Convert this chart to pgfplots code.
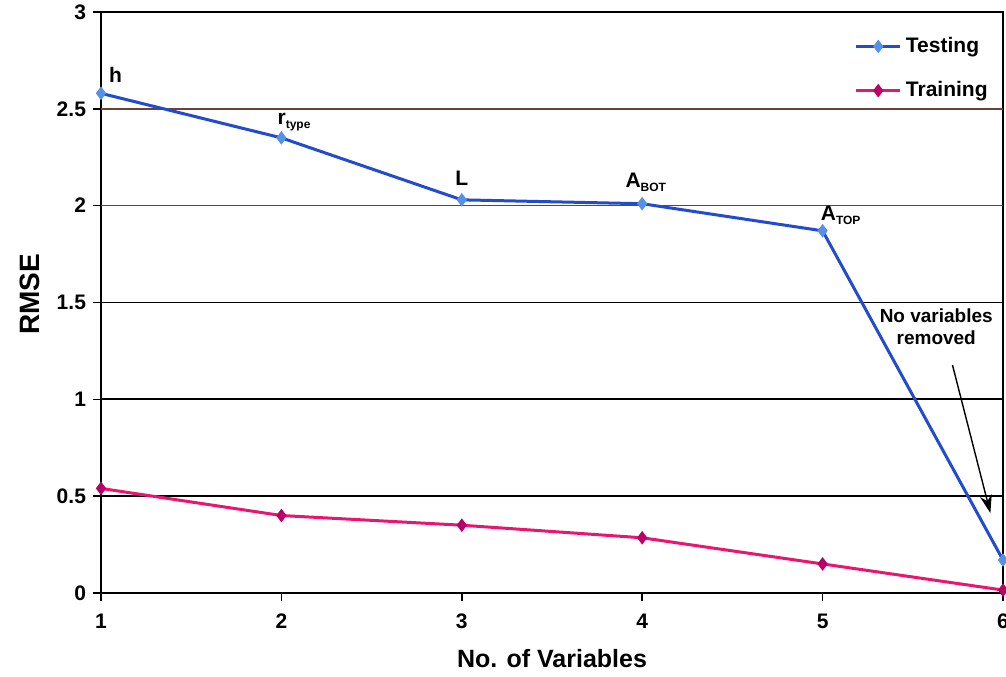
\documentclass[border=0pt]{standalone}
\usepackage{fontspec}
\setmainfont{Liberation Sans}
\usepackage{pgfplots}
\pgfplotsset{compat=1.18}
\usetikzlibrary{arrows.meta}
\definecolor{tblue}{RGB}{35,75,205}
\definecolor{tmark}{RGB}{85,145,230}
\definecolor{rpink}{RGB}{232,22,112}
\definecolor{rmark}{RGB}{185,0,105}
\definecolor{gbrown}{RGB}{110,65,50}
\begin{document}
\begin{tikzpicture}
\begin{axis}[
  scale only axis, width=451pt, height=290.5pt,
  xmin=1, xmax=6, ymin=0, ymax=3, clip=false,
  xtick={1,2,3,4,5,6},
  ytick={0,0.5,1,1.5,3},
  extra y ticks={2,2.5},
  extra y tick style={grid style={draw=gbrown, line width=0.7pt}},
  ymajorgrids, grid style={black, line width=0.9pt},
  axis line style={black, line width=1.4pt},
  tick style={black, line width=0.8pt},
  tick align=outside, tick pos=left, major tick length=4pt,
  /pgf/number format/assume math mode=true,
  ticklabel style={font=\fontsize{10.5}{12}\selectfont\bfseries},
  xticklabel style={yshift=-3pt},
  xlabel={No. of Variables}, ylabel={RMSE},
  every axis x label/.style={at={(axis description cs:0.5,0)}, yshift=-33pt, anchor=center, font=\fontsize{12.5}{14}\selectfont\bfseries},
  every axis y label/.style={at={(axis description cs:0,0.5)}, xshift=-35.5pt, yshift=4pt, rotate=90, anchor=center, font=\fontsize{14}{16}\selectfont\bfseries},
  legend style={draw=none, fill=none, at={(rel axis cs:0.835,0.964)}, anchor=north west,
    font=\fontsize{10.5}{12}\selectfont\bfseries, row sep=9pt, inner sep=0pt},
  legend cell align=left,
  legend image code/.code={
    \draw[mark repeat=2, mark phase=2] plot coordinates {(0cm,0cm) (0.39cm,0cm) (0.78cm,0cm)};
  },
]
\addplot[color=tblue, line width=1.5pt, mark=diamond*, mark size=3pt, mark options={fill=tmark, draw=tmark, line width=0.5pt}]
  coordinates {(1,2.58) (2,2.35) (3,2.03) (4,2.01) (5,1.87) (6,0.17)};
\addlegendentry{Testing}
\addplot[color=rpink, line width=1.5pt, mark=diamond*, mark size=3pt, mark options={fill=rmark, draw=rmark, line width=0.5pt}]
  coordinates {(1,0.54) (2,0.40) (3,0.35) (4,0.285) (5,0.15) (6,0.015)};
\addlegendentry{Training}

\node[font=\fontsize{10.5}{12}\selectfont\bfseries] at (axis cs:1.08,2.675) {h};
\node[font=\fontsize{10.5}{12}\selectfont\bfseries] at (axis cs:2.07,2.43) {r\raisebox{-0.35ex}{\fontsize{6}{7}\selectfont type}};
\node[font=\fontsize{10.5}{12}\selectfont\bfseries] at (axis cs:3.0,2.14) {L};
\node[font=\fontsize{10.5}{12}\selectfont\bfseries] at (axis cs:4.02,2.12) {A\raisebox{-0.35ex}{\fontsize{6}{7}\selectfont BOT}};
\node[font=\fontsize{10.5}{12}\selectfont\bfseries] at (axis cs:5.1,1.95) {A\raisebox{-0.35ex}{\fontsize{6}{7}\selectfont TOP}};
\node[font=\fontsize{9.5}{11}\selectfont\bfseries, align=center] at (axis cs:5.63,1.375) {No variables\\removed};
\draw[-{Stealth[length=9pt,width=6pt]}, line width=0.7pt] (axis cs:5.72,1.177) -- (axis cs:5.93,0.413);

\coordinate (bl) at (rel axis cs:0,0);
\coordinate (tr) at (rel axis cs:1,1);
\end{axis}
\pgfresetboundingbox
\path[use as bounding box] ([xshift=-50.5pt,yshift=-42pt]bl) rectangle ([xshift=1.5pt,yshift=6pt]tr);
\end{tikzpicture}
\end{document}
